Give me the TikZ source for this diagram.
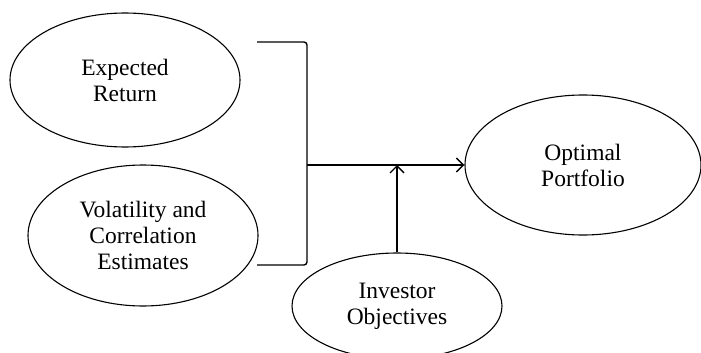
\documentclass[tikz,border=0pt]{standalone}
\usepackage{fontspec}
\setmainfont{Liberation Serif}
\usetikzlibrary{shapes.geometric,arrows.meta}
\begin{document}
\begin{tikzpicture}[x=1pt,y=-1pt,
  oval/.style={draw,ellipse,line width=1.1pt,inner sep=0pt,align=center,
    font=\fontsize{23.5}{26}\selectfont},
  conn/.style={line width=1.4pt},
  arr/.style={conn,-{Straight Barb[length=7pt,width=14pt,line width=1.4pt]}}]
\useasboundingbox (0,0) rectangle (701,353);
\node[oval,minimum width=230pt,minimum height=134pt] (er) at (125,80) {Expected\\Return};
\node[oval,minimum width=230pt,minimum height=141pt] (vc) at (143,235.5) {Volatility and\\Correlation\\Estimates};
\node[oval,minimum width=236pt,minimum height=140pt] (op) at (583,165) {Optimal\\Portfolio};
\node[oval,minimum width=210pt,minimum height=106pt] (io) at (397,306) {Investor\\Objectives};
\coordinate (bt) at (257,42);
\coordinate (bb) at (257,265);
\coordinate (bm) at (307,165);
\draw[conn,rounded corners=3pt] (bt) -- (307,42) -- (307,265) -- (bb);
\draw[arr] (bm) -- (op.west);
\draw[arr] (io.north) -- (io.north |- bm);
\end{tikzpicture}
\end{document}
